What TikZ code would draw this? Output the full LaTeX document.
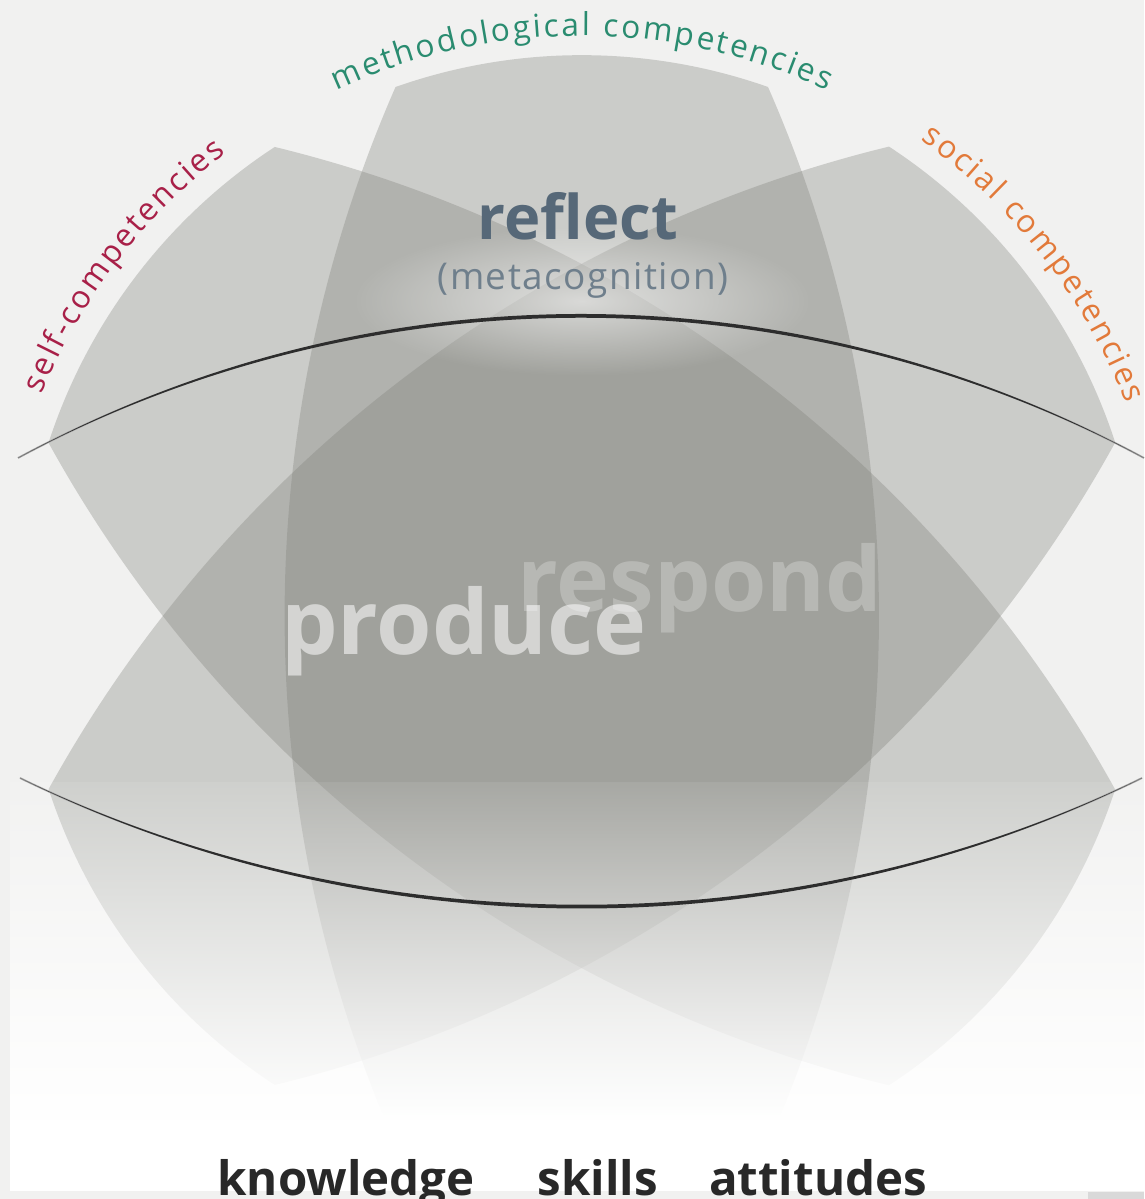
\documentclass[tikz,border=0pt]{standalone}
\usepackage{fontspec}
\setmainfont{Open Sans}
\usetikzlibrary{decorations.text,fadings}

\definecolor{paper}{RGB}{241,241,240}
\definecolor{petalgray}{RGB}{125,126,120}
\definecolor{methgreen}{RGB}{42,140,112}
\definecolor{selfred}{RGB}{168,32,72}
\definecolor{socorange}{RGB}{226,122,58}
\definecolor{reflectblue}{RGB}{86,104,120}
\definecolor{labeldark}{RGB}{40,40,40}
\definecolor{curveblack}{RGB}{45,45,45}

\tikzfading[name=fadewhite, top color=transparent!92, middle color=transparent!78, bottom color=transparent!0]
\tikzfading[name=softglow, inner color=transparent!0, outer color=transparent!100]

% one competency field, pointing up, centred on the origin
\newcommand{\petaloutline}{(1.86,5.29) arc[start angle=23.7, end angle=-23.7, radius=13.16]
  arc[start angle=-70.6, end angle=-109.4, radius=5.607]
  arc[start angle=203.7, end angle=156.3, radius=13.16]
  arc[start angle=109.4, end angle=70.6, radius=5.607] -- cycle}

\tikzset{
  petal/.style={fill=petalgray, fill opacity=0.32},
  arclabel/.style 2 args={decorate, decoration={text along path, text align={fit to path},
      text color=#1, text={|\fontsize{9}{10.8}\selectfont|#2}}},
  bigword/.style={anchor=base, inner sep=0pt, font=\fontsize{25.5}{30}\selectfont\bfseries},
  bottomword/.style={anchor=base, inner sep=0pt, text=labeldark, font=\fontsize{13.5}{16}\selectfont\bfseries},
}

\begin{document}
\begin{tikzpicture}
    \useasboundingbox (-5.82,-5.83) rectangle (5.62,6.16);
    \fill[paper] (-5.82,-5.83) rectangle (5.62,6.16);

    % the three fields
    \fill[petal, rotate=52.6] \petaloutline;
    \fill[petal] \petaloutline;
    \fill[petal, rotate=-52.6] \petaloutline;

    % centre words
    \begin{scope}
        \clip \petaloutline;
        \node[bigword, text=white, text opacity=0.25] (respond) at (1.18,0.04) {respond};
    \end{scope}
    \node[bigword, text=white, text opacity=0.55] (produce) at (-1.18,-0.39) {produce};

    % fade to white at the bottom
    \fill[white, path fading=fadewhite] (-5.72,-1.66) rectangle (5.62,-5.04);
    \fill[white] (-5.72,-5.04) rectangle (5.62,-5.75);
    \fill[gray!30] (5.06,-5.76) rectangle (5.62,-5.83);

    % soft light behind the reflect label
    \fill[white, fill opacity=0.6, path fading=softglow] (0,3.15) ellipse [x radius=2.3, y radius=0.75];

    % upper and lower limit curves
    \draw[curveblack!45, line width=0.5pt] (-5.64,1.58) .. controls (-2.12,3.475) and (2.10,3.475) .. (5.62,1.58);
    \fill[curveblack] (-5.64,1.58) .. controls (-2.12,3.50) and (2.10,3.50) .. (5.62,1.58)
        .. controls (2.10,3.45) and (-2.12,3.45) .. (-5.64,1.58) -- cycle;
    \draw[curveblack!45, line width=0.5pt] (-5.62,-1.62) .. controls (-2.10,-3.335) and (2.10,-3.335) .. (5.60,-1.62);
    \fill[curveblack] (-5.62,-1.62) .. controls (-2.10,-3.36) and (2.10,-3.36) .. (5.60,-1.62)
        .. controls (2.10,-3.31) and (-2.10,-3.31) .. (-5.62,-1.62) -- cycle;

    % reflect label
    \node[anchor=base, inner sep=0pt, text=reflectblue, font=\fontsize{17.5}{21}\selectfont\bfseries] (reflect) at (-0.04,3.76) {reflect};
    \node[anchor=base, inner sep=0pt, text=reflectblue!85, font=\fontsize{10.5}{12}\selectfont\addfontfeatures{LetterSpace=4}] (metacog) at (0.01,3.26) {(metacognition)};

    % competency labels round the top
    \path[arclabel={selfred}{self-competencies}] (157.7:5.84) arc[start angle=157.7, end angle=127.5, radius=5.84];
    \path[arclabel={methgreen}{methodological competencies}] (115:5.80) arc[start angle=115, end angle=65, radius=5.80];
    \path[arclabel={socorange}{social competencies}] (54.6:5.84) arc[start angle=54.6, end angle=21.3, radius=5.84];

    % bottom row
    \node[bottomword] (knowledge) at (-2.36,-5.79) {knowledge};
    \node[bottomword] (skills) at (0.16,-5.79) {skills};
    \node[bottomword] (attitudes) at (2.36,-5.79) {attitudes};
\end{tikzpicture}
\end{document}
